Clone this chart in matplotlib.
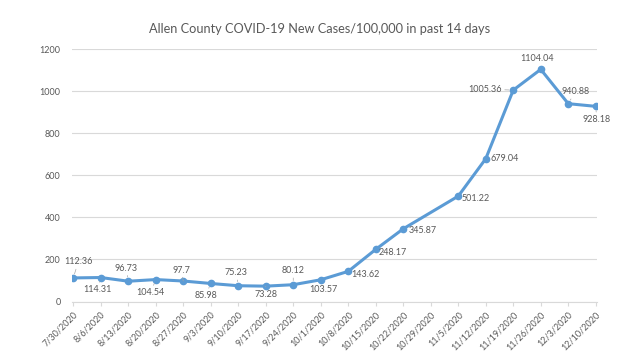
import matplotlib
matplotlib.use("Agg")
from matplotlib import pyplot as plt
import matplotlib.dates as mdates
import pandas as pd

plt.rcParams["font.family"] = ["Lato", "DejaVu Sans"]

tick_labels = ['7/30/2020', '8/6/2020', '8/13/2020', '8/20/2020', '8/27/2020',
               '9/3/2020', '9/10/2020', '9/17/2020', '9/24/2020', '10/1/2020',
               '10/8/2020', '10/15/2020', '10/22/2020', '10/29/2020', '11/5/2020',
               '11/12/2020', '11/19/2020', '11/26/2020', '12/3/2020', '12/10/2020']

# no value reported for 10/29
report_dates = ['7/30/2020', '8/6/2020', '8/13/2020', '8/20/2020', '8/27/2020',
                '9/3/2020', '9/10/2020', '9/17/2020', '9/24/2020', '10/1/2020',
                '10/8/2020', '10/15/2020', '10/22/2020', '11/5/2020',
                '11/12/2020', '11/19/2020', '11/26/2020', '12/3/2020', '12/10/2020']
cases = [112.36, 114.31, 96.73, 104.54, 97.7, 85.98, 75.23, 73.28, 80.12, 103.57,
         143.62, 248.17, 345.87, 501.22, 679.04, 1005.36, 1104.04, 940.88, 928.18]

# label placement (pixels from the point) and whether a leader line is drawn
label_offsets = [(5, 16), (-3, -12), (-2, 13), (-5, -13), (-2, 11), (-5, -12),
                 (-2, 13), (0, -8), (0, 14), (3, -10), (17, -3), (17, -3),
                 (19, -2), (17, -2), (19, 0), (-28, 1), (-4, 11), (7, 12), (1, -13)]
leaders = [True, True, True, True, True, True, True, True, True, False, False,
           False, False, False, False, True, False, True, True]

text_color = '#595959'
line_color = '#5B9BD5'
grid_color = '#D9D9D9'

x = mdates.date2num(pd.to_datetime(report_dates, format='%m/%d/%Y'))
ticks = mdates.date2num(pd.to_datetime(tick_labels, format='%m/%d/%Y'))

fig = plt.figure(figsize=(6.4, 3.59), dpi=100)
ax = fig.add_axes([0.112, 0.16, 0.821, 0.703])

ax.plot(x, cases, color=line_color, lw=2.2, marker='o', ms=4.5, zorder=3)

for xi, v, off, lead in zip(x, cases, label_offsets, leaders):
    props = None
    if lead:
        props = dict(arrowstyle='-', color='#A6A6A6', lw=0.5, shrinkA=0, shrinkB=3)
    ax.annotate(f'{v:g}', (xi, v), xytext=off, textcoords='offset pixels',
                ha='center', va='center', fontsize=6.5, color=text_color,
                arrowprops=props)

ax.set_ylim(0, 1200)
ax.set_yticks(range(0, 1201, 200))
ax.set_xlim(ticks[0] - 0.4, ticks[-1] + 0.35)
ax.set_xticks(ticks)
ax.set_xticklabels(tick_labels, rotation=45, ha='right', va='top',
                   rotation_mode='anchor')

ax.grid(axis='y', color=grid_color, lw=0.8)
ax.set_axisbelow(True)
for s in ['top', 'right', 'left']:
    ax.spines[s].set_visible(False)
ax.spines['bottom'].set_color(grid_color)
ax.tick_params(axis='x', colors=grid_color, length=3, labelcolor=text_color,
               labelsize=6.5, pad=3)
ax.tick_params(axis='y', length=0, labelcolor=text_color, labelsize=6.5, pad=8)

fig.text(0.5, 0.92, 'Allen County COVID-19 New Cases/100,000 in past 14 days',
         ha='center', va='center', fontsize=9.2, color=text_color)

fig.savefig('out.png', dpi=100)
